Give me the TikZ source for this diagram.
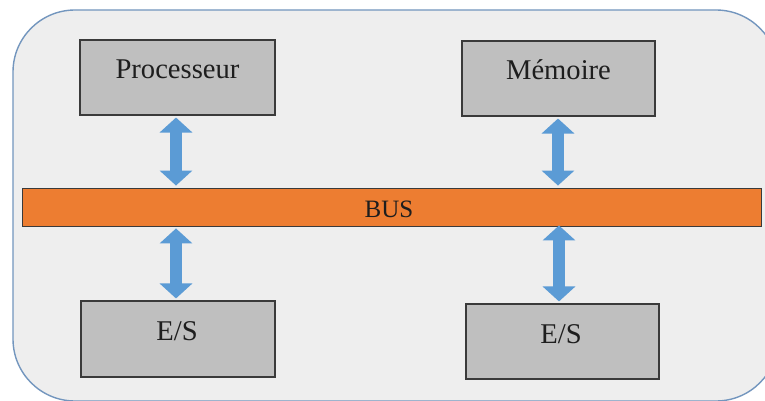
\documentclass[tikz,border=0pt]{standalone}
\usepackage{fontspec}
\setmainfont{Liberation Serif}
\newfontfamily\unitface{Liberation Serif}
\usetikzlibrary{arrows.meta}

\definecolor{panelfill}{HTML}{EEEEEE}
\definecolor{panelline}{HTML}{7396BE}
\definecolor{unitfill}{HTML}{BFBFBF}
\definecolor{unitline}{HTML}{3A3A3A}
\definecolor{busfill}{HTML}{ED7D31}
\definecolor{linkblue}{HTML}{5B9BD5}
\definecolor{ink}{HTML}{1E1E1E}

\tikzset{
  unit/.style={draw=unitline, line width=1.1pt, fill=unitfill, inner sep=0pt},
  unitlabel/.style={anchor=base, inner sep=0pt, text=ink,
    font=\unitface\fontsize{28.6}{34}\selectfont},
  buslabel/.style={anchor=base, inner sep=0pt, text=ink,
    font=\unitface\fontsize{25}{30}\selectfont},
  link/.style={draw=linkblue, line width=12pt,
    {Triangle[length=15pt,width=32pt]}-{Triangle[length=15pt,width=32pt]},
    shorten <=2pt, shorten >=2pt}
}

\begin{document}
\begin{tikzpicture}[x=1pt,y=-1pt]
  \useasboundingbox (0,0) rectangle (765,401);
  \fill[white] (0,0) rectangle (765,401);
  \begin{scope}
    \clip (0,0) rectangle (765,401);
    % rounded panel behind the whole system
    \draw[panelline, fill=panelfill, line width=1.4pt, rounded corners=62pt]
      (13,10) rectangle (778,401);
  \end{scope}

  % functional units
  \node[unit, minimum width=195pt, minimum height=75pt] (proc) at (177.5,77.5) {};
  \node[unit, minimum width=193pt, minimum height=75pt] (mem)  at (558.5,78.5) {};
  \node[unit, minimum width=194pt, minimum height=76pt] (esl)  at (178,339) {};
  \node[unit, minimum width=193pt, minimum height=75pt] (esr)  at (562.5,341.5) {};

  % system bus
  \node[draw=unitline, line width=0.9pt, fill=busfill, inner sep=0pt,
        minimum width=739pt, minimum height=38pt] (bus) at (391.5,207) {};

  % labels
  \node[unitlabel] at (177.5,79) {Processeur};
  \node[unitlabel] at (558.5,80) {Mémoire};
  \node[unitlabel] at (177,340) {E/S};
  \node[unitlabel] at (561,343) {E/S};
  \node[buslabel] at (389,217) {BUS};

  % bidirectional links to the bus
  \draw[link] ([xshift=-1.5pt]proc.south) -- ([xshift=-1.5pt]proc.south |- bus.north);
  \draw[link] ([xshift=-0.5pt]mem.south) -- ([xshift=-0.5pt]mem.south |- bus.north);
  \draw[link] ([xshift=-2pt]bus.south -| esl.north) -- ([xshift=-2pt]esl.north);
  \draw[link] ([xshift=-3.5pt,yshift=3pt]bus.south -| esr.north) -- ([xshift=-3.5pt]esr.north);
\end{tikzpicture}
\end{document}
